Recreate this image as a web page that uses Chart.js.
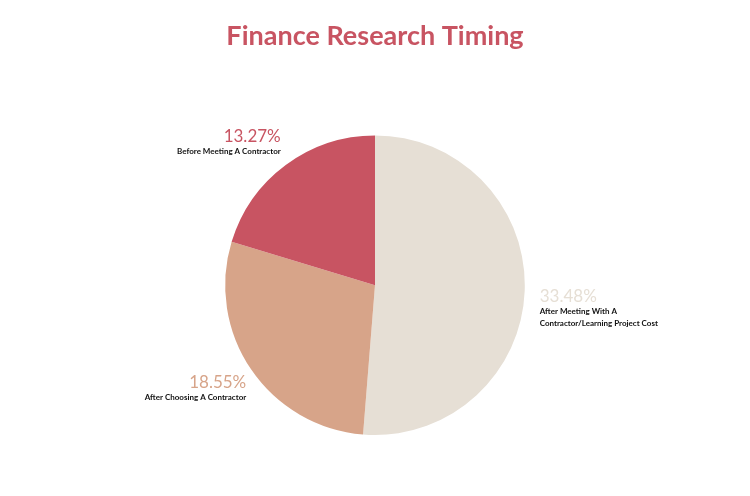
<!DOCTYPE html>
<html>
<head>
<meta charset="utf-8">
<script src="https://cdn.jsdelivr.net/npm/chart.js@4"></script>
<style>
  html, body { margin: 0; padding: 0; background: #ffffff; }
  #wrap { width: 750px; height: 496px; }
</style>
</head>
<body>
<div id="wrap"><canvas id="pieChart"></canvas></div>
<script>
// данные графика
const categories = ['After Meeting With A\nContractor/Learning Project Cost', 'After Choosing A Contractor', 'Before Meeting A Contractor'];
const shares = [33.48, 18.55, 13.27];
const sliceColors = ['#e6dfd5', '#d7a489', '#c85462'];

// подписи у секторов, считаются от геометрии дуг
const sliceLabels = {
  id: 'sliceLabels',
  afterDatasetsDraw(chart) {
    const ctx = chart.ctx;
    const arcs = chart.getDatasetMeta(0).data;
    arcs.forEach(function (arc, i) {
      const mid = (arc.startAngle + arc.endAngle) / 2;
      const r = arc.outerRadius;
      const right = Math.cos(mid) >= 0;
      const lines = categories[i].split('\n');
      const ay = arc.y + Math.sin(mid) * r * 1.2;
      const ax = arc.x + Math.cos(mid) * r + (right ? 15 : -5);
      const py = ay - 4 + (lines.length - 1) * 8;
      ctx.save();
      ctx.textAlign = right ? 'left' : 'right';
      ctx.textBaseline = 'middle';
      ctx.fillStyle = sliceColors[i];
      ctx.font = '400 17px Lato';
      ctx.fillText(shares[i].toFixed(2) + '%', ax, py);
      ctx.fillStyle = '#111111';
      ctx.font = '700 8px Lato';
      lines.forEach(function (line, k) {
        ctx.fillText(line, ax, py + 15 + k * 12);
      });
      ctx.restore();
    });
  }
};

new Chart(document.getElementById('pieChart'), {
  type: 'pie',
  data: {
    labels: categories,
    datasets: [{
      data: shares,
      backgroundColor: sliceColors,
      borderWidth: 0
    }]
  },
  options: {
    responsive: true,
    maintainAspectRatio: false,
    animation: false,
    layout: { padding: { top: 0, bottom: 61 } },
    plugins: {
      legend: { display: false },
      tooltip: { enabled: false },
      title: {
        display: true,
        text: 'Finance Research Timing',
        color: '#c85462',
        font: { family: 'Lato', size: 27, weight: 'bold' },
        padding: { top: 20, bottom: 83 }
      }
    }
  },
  plugins: [sliceLabels]
});
</script>
</body>
</html>
